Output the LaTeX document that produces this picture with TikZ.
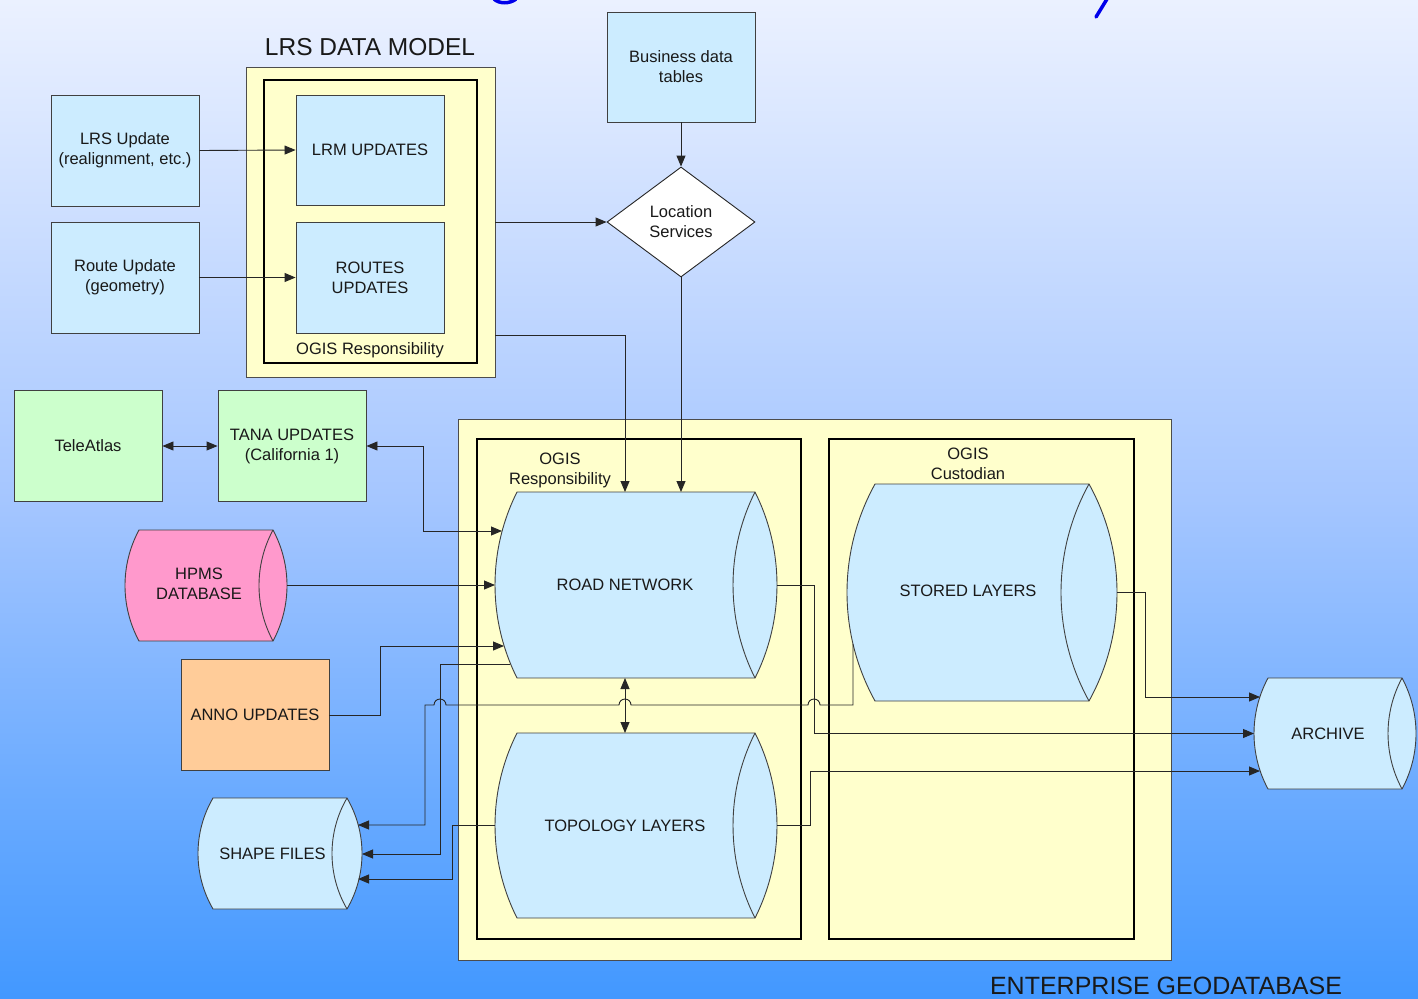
\documentclass[tikz,border=0pt]{standalone}
\usepackage{fontspec}
\setmainfont{Liberation Sans}
\usetikzlibrary{arrows.meta,shapes.geometric}
\definecolor{bluefill}{HTML}{CCECFF}
\definecolor{yellowfill}{HTML}{FFFFCC}
\definecolor{greenfill}{HTML}{CCFFCC}
\definecolor{pinkfill}{HTML}{FF99CC}
\definecolor{orangefill}{HTML}{FFCC99}
\definecolor{bgtop}{RGB}{235,241,255}
\definecolor{bgmid}{RGB}{165,198,255}
\definecolor{bgbot}{RGB}{66,152,255}
\definecolor{titleblue}{RGB}{0,0,235}
\pgfdeclareverticalshading{bgshade}{100bp}{color(0bp)=(bgbot); color(25bp)=(bgbot); color(50bp)=(bgmid); color(75bp)=(bgtop); color(100bp)=(bgtop)}
% cylinder: #1 left body x, #2 right body x, #3 top y (screen), #4 bottom y (screen), #5 cap bulge, #6 fill
\newcommand\drawcyl[6]{%
  \pgfmathsetmacro\cylh{(#4-#3)/2}%
  \pgfmathsetmacro\cylR{(#5*#5+\cylh*\cylh)/(2*#5)}%
  \pgfmathsetmacro\cyla{asin(\cylh/\cylR)}%
  \filldraw[fill=#6, draw=black!75, line width=0.9pt]
    (#2,-#3) -- (#1,-#3)
    arc[start angle={180-\cyla}, end angle={180+\cyla}, radius=\cylR]
    -- (#2,-#4)
    arc[start angle={-\cyla}, end angle={\cyla}, radius=\cylR] -- cycle;
  \draw[black!75, line width=0.9pt] (#2,-#3)
    arc[start angle={180-\cyla}, end angle={180+\cyla}, radius=\cylR];
}
\begin{document}
\begin{tikzpicture}[x=1pt,y=1pt,
  every node/.style={font=\fontsize{16.5}{20}\selectfont, align=center, text=black!90, inner sep=0pt},
  box/.style={draw=black!75, line width=0.9pt, fill=bluefill, minimum width=148pt, minimum height=111pt},
  group/.style={draw=black!70, line width=0.9pt, fill=yellowfill},
  thickbox/.style={draw=black, line width=2.8pt},
  conn/.style={draw=black!85, line width=0.9pt, -{Triangle[length=11pt,width=9pt]}},
  twoway/.style={draw=black!85, line width=0.9pt, {Triangle[length=11pt,width=9pt]}-{Triangle[length=11pt,width=9pt]}}]
\useasboundingbox (0,0) rectangle (1418,-998);
\shade[shading=bgshade] (0,0) rectangle (1418,-998);
% cut-off title fragments
\draw[titleblue, line width=3.5pt, line cap=round] (1107,1) -- (1096,-17);
\draw[titleblue, line width=3.5pt] (494,1) .. controls (499,-4) and (510,-4) .. (516,1);

% LRS data model
\node[font=\fontsize{24.5}{28}\selectfont] (lrstitle) at (370,-47) {LRS DATA MODEL};
\node[group, minimum width=249pt, minimum height=310pt] (lrsmodel) at (370.5,-222) {};
\node[thickbox, minimum width=213pt, minimum height=283pt] (lrsinner) at (370.5,-221.5) {};
\node[box, minimum height=110pt] (lrm) at (370,-150) {LRM UPDATES};
\node[box] (routes) at (370,-277.5) {ROUTES\\UPDATES};
\node (lrsresp) at (370,-350) {OGIS Responsibility};

\node[box] (lrsupd) at (125,-150.5) {LRS Update\\(realignment, etc.)};
\node[box] (routeupd) at (125,-277.5) {Route Update\\(geometry)};

\node[box, minimum height=110pt] (business) at (681,-67) {Business data\\tables};
\node[diamond, draw=black!85, fill=white, line width=0.9pt, minimum width=148pt, minimum height=110pt, aspect=1.345] (locsvc) at (681,-222) {Location\\Services};

\node[box, fill=greenfill] (tele) at (88,-446) {TeleAtlas};
\node[box, fill=greenfill] (tana) at (292,-446) {TANA UPDATES\\(California 1)};
\node[box, fill=orangefill] (anno) at (255,-715) {ANNO UPDATES};

% Enterprise geodatabase
\node[group, minimum width=713pt, minimum height=541pt] (enterprise) at (814.5,-689.5) {};
\node[thickbox, minimum width=324pt, minimum height=500pt] (respbox) at (639,-689) {};
\node[thickbox, minimum width=305pt, minimum height=500pt] (custbox) at (981.5,-689) {};
\node (resplabel) at (560,-470) {OGIS\\Responsibility};
\node (custlabel) at (968,-464) {OGIS\\Custodian};
\node[font=\fontsize{25}{28}\selectfont] (entlabel) at (1166,-986) {ENTERPRISE GEODATABASE};

% cylinders
\drawcyl{517}{755}{492}{678}{22}{bluefill}
\drawcyl{517}{755}{733}{918}{22}{bluefill}
\drawcyl{875}{1089}{484}{701}{28}{bluefill}
\drawcyl{139}{273}{530}{641}{14}{pinkfill}
\drawcyl{213}{347}{798}{909}{15}{bluefill}
\drawcyl{1268}{1402}{678}{789}{14}{bluefill}
\node (roadnet) at (625,-585) {ROAD NETWORK};
\node (topo) at (625,-825.5) {TOPOLOGY LAYERS};
\node (stored) at (968,-591) {STORED LAYERS};
\node (hpms) at (199,-584) {HPMS\\DATABASE};
\node (shape) at (272.5,-853.5) {SHAPE FILES};
\node (archive) at (1328,-733.5) {ARCHIVE};

% attachment points on the cylinder outlines
\coordinate (rnT1) at (625,-492);
\coordinate (rnT2) at (681,-492);
\coordinate (rnB) at (502,-531);
\coordinate (rnL) at (495,-585);
\coordinate (rnA) at (504,-646);
\coordinate (rnC) at (510,-664);
\coordinate (rnR) at (777,-585);
\coordinate (rnBot) at (625,-678);
\coordinate (topoTop) at (625,-733);
\coordinate (topoL) at (495,-825.5);
\coordinate (topoR) at (777,-825.5);
\coordinate (stC) at (853,-644);
\coordinate (stR) at (1117,-592);
\coordinate (hpmsR) at (287,-585);
\coordinate (shA) at (358,-825);
\coordinate (shB) at (362,-854);
\coordinate (shC) at (358,-879);
\coordinate (arA) at (1260,-697);
\coordinate (arL) at (1254,-733.5);
\coordinate (arB) at (1260,-771);
\coordinate (lrsout) at (495,-335);

% connectors
\draw[conn] (lrsupd.east) -- (lrm.west);
\draw[conn] (routeupd.east) -- (routes.west);
\draw[conn] (business.south) -- (locsvc.north);
\draw[conn] (lrsmodel.east) -- (locsvc.west);
\draw[conn] (lrsout) -- (625,-335) -- (rnT1);
\draw[conn] (locsvc.south) -- (rnT2);
\draw[twoway] (tele.east) -- (tana.west);
\draw[twoway] (tana.east) -- (423,-446) -- (423,-531) -- (rnB);
\draw[conn] (hpmsR) -- (rnL);
\draw[conn] (anno.east) -- (380,-715) -- (380,-646) -- (rnA);
\draw[conn] (rnC) -- (440,-664) -- (440,-854) -- (shB);
\draw[conn] (stC) -- (853,-705) -- (820,-705)
  arc[start angle=0, end angle=180, radius=6] -- (631,-705)
  arc[start angle=0, end angle=180, radius=6] -- (446,-705)
  arc[start angle=0, end angle=180, radius=6] -- (425,-705) -- (425,-825) -- (shA);
\draw[conn] (topoL) -- (452,-825.5) -- (452,-879) -- (shC);
\draw[twoway] (rnBot) -- (topoTop);
\draw[conn] (rnR) -- (814,-585) -- (814,-733.5) -- (arL);
\draw[conn] (stR) -- (1145,-592) -- (1145,-697) -- (arA);
\draw[conn] (topoR) -- (810,-825.5) -- (810,-771) -- (arB);
\end{tikzpicture}
\end{document}
